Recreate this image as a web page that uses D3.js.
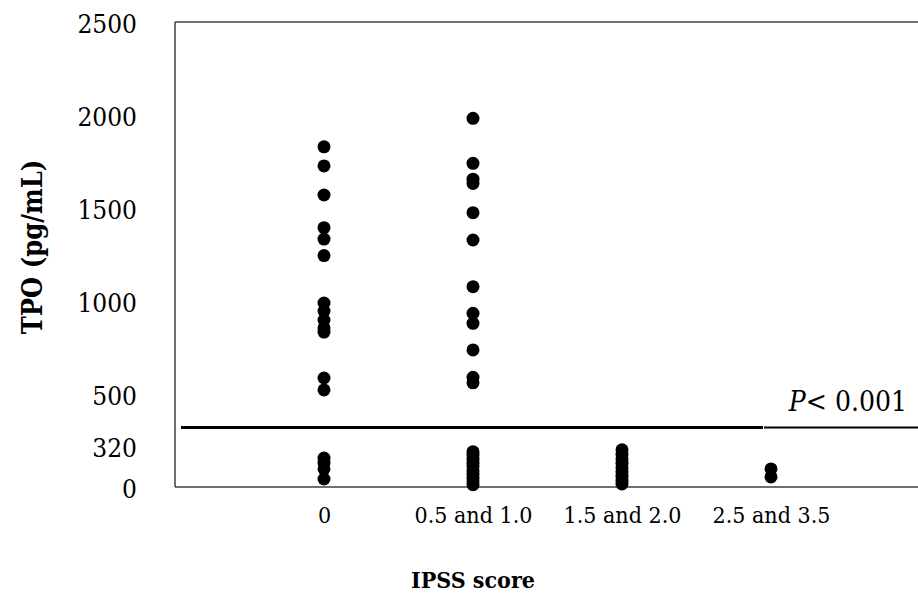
<!DOCTYPE html>
<html>
<head>
<meta charset="utf-8">
<script src="https://cdn.jsdelivr.net/npm/d3@7"></script>
<style>
  body { margin: 0; background: #fff; }
  svg text { font-family: "DejaVu Serif Condensed", "DejaVu Serif", serif; fill: #000; }
</style>
</head>
<body>
<script>
// IPSS score groups and TPO values (pg/mL)
var categories = ["0", "0.5 and 1.0", "1.5 and 2.0", "2.5 and 3.5"];
var tpoIpss0 = [1829, 1726, 1570, 1394, 1333, 1244, 989, 946, 898, 855, 833, 586, 522, 156, 129, 97, 43];
var tpoIpss05to10 = [1982, 1740, 1655, 1632, 1475, 1328, 1077, 934, 880, 737, 590, 560,
  190, 172, 150, 128, 110, 88, 68, 47, 28, 12];
var tpoIpss15to20 = [200, 176, 152, 128, 104, 80, 58, 36, 16];
var tpoIpss25to35 = [97, 54];
var yTicks = [0, 500, 1000, 1500, 2000, 2500];
var cutoff = 320;
var pValue = "< 0.001";

window.onload = () => {
  var W = 918, H = 596;
  var margin = { top: 22, right: -2, bottom: 109, left: 175 },
    width = W - margin.left - margin.right,
    height = H - margin.top - margin.bottom;

  var svg = d3.select("body").append("svg")
    .attr("width", W).attr("height", H);
  var g = svg.append("g")
    .attr("transform", "translate(" + margin.left + "," + margin.top + ")");

  var x = d3.scalePoint().domain(categories).range([0, width]).padding(1);
  var y = d3.scaleLinear().domain([0, 2500]).range([height, 0]);

  // frame: left, top, bottom
  var frame = "#404040";
  g.append("line").attr("x1", 0).attr("x2", 0).attr("y1", 0).attr("y2", height)
    .attr("stroke", frame).attr("stroke-width", 1.5);
  g.append("line").attr("x1", 0).attr("x2", width).attr("y1", 0).attr("y2", 0)
    .attr("stroke", frame).attr("stroke-width", 1.5);
  g.append("line").attr("x1", 0).attr("x2", width).attr("y1", height).attr("y2", height)
    .attr("stroke", frame).attr("stroke-width", 1.5);

  // y axis labels only
  var yAxis = g.append("g")
    .call(d3.axisLeft(y).tickValues(yTicks).tickSize(0).tickPadding(38).tickFormat(d3.format("d")));
  yAxis.select(".domain").remove();
  yAxis.attr("font-family", null);
  yAxis.selectAll("text")
    .style("font-size", "26px")
    .attr("dy", "0.4em");

  g.append("text")
    .attr("x", -38)
    .attr("y", y(cutoff) + 20)
    .attr("dy", "0.35em")
    .attr("text-anchor", "end")
    .style("font-size", "26px")
    .text(cutoff);

  // x axis labels only
  var xAxis = g.append("g")
    .attr("transform", "translate(0," + height + ")")
    .call(d3.axisBottom(x).tickSize(0).tickPadding(20));
  xAxis.select(".domain").remove();
  xAxis.attr("font-family", null);
  xAxis.selectAll("text")
    .style("font-size", "23px");

  // cutoff line
  var split = x(categories[3]) - 8;
  g.append("line").attr("x1", 6).attr("x2", split)
    .attr("y1", y(cutoff)).attr("y2", y(cutoff))
    .attr("stroke", "#000").attr("stroke-width", 3);
  g.append("line").attr("x1", split + 1).attr("x2", width)
    .attr("y1", y(cutoff)).attr("y2", y(cutoff))
    .attr("stroke", "#000").attr("stroke-width", 2);

  var pText = g.append("text")
    .attr("x", width - 13)
    .attr("y", y(cutoff) - 16)
    .attr("text-anchor", "end")
    .style("font-size", "28px");
  pText.append("tspan").style("font-style", "italic").text("P");
  pText.append("tspan").text(pValue);

  // dots
  var groups = [tpoIpss0, tpoIpss05to10, tpoIpss15to20, tpoIpss25to35];
  var points = [];
  groups.forEach(function (vals, i) {
    vals.forEach(function (v) { points.push({ cat: categories[i], v: v }); });
  });
  g.selectAll("circle.dot")
    .data(points)
    .enter()
    .append("circle")
    .attr("class", "dot")
    .attr("cx", function (d) { return x(d.cat); })
    .attr("cy", function (d) { return y(d.v); })
    .attr("r", 6.5)
    .style("fill", "#000");

  // axis titles
  svg.append("text")
    .attr("x", margin.left + x(categories[1]))
    .attr("y", 580)
    .attr("dy", "0.35em")
    .attr("text-anchor", "middle")
    .style("font-weight", "bold")
    .style("font-size", "23px")
    .text("IPSS score");

  svg.append("text")
    .attr("transform", "translate(33,247) rotate(-90)")
    .attr("dy", "0.35em")
    .attr("text-anchor", "middle")
    .style("font-weight", "bold")
    .style("font-size", "27px")
    .text("TPO (pg/mL)");
};
</script>
</body>
</html>
